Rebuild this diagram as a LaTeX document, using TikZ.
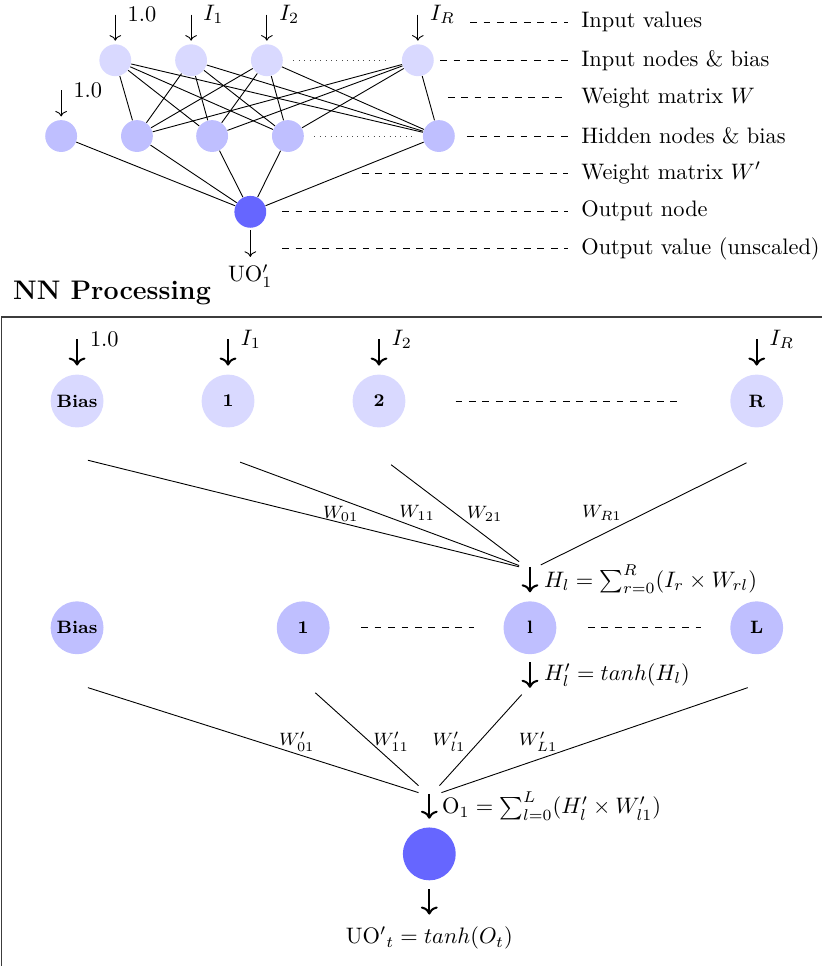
\documentclass[tikz,border=0pt]{standalone}
\usepackage{xcolor}
\usepackage{amsmath}
\usepackage{tikz}
\usetikzlibrary{arrows.meta, positioning, calc}
\definecolor{inlav}{RGB}{217,217,255}
\definecolor{hidlav}{RGB}{191,191,255}
\definecolor{outblue}{RGB}{102,102,255}
\definecolor{boxgray}{RGB}{60,60,60}
\tikzset{
  innode/.style={circle, fill=inlav, minimum size=0.5cm, inner sep=0pt},
  hidnode/.style={circle, fill=hidlav, minimum size=0.5cm, inner sep=0pt},
  outnode/.style={circle, fill=outblue, minimum size=0.5cm, inner sep=0pt},
  biginnode/.style={innode, minimum size=0.83cm, font=\footnotesize\bfseries},
  bighidnode/.style={hidnode, minimum size=0.83cm, font=\footnotesize\bfseries},
  bigoutnode/.style={outnode, minimum size=0.83cm},
  thinarrow/.style={->},
  bigarrow/.style={->, line width=0.9pt},
  legdash/.style={dashed},
  legtext/.style={anchor=west, inner sep=0pt},
  wlabel/.style={font=\footnotesize},
  gapdash/.style={dashed},
  gapdot/.style={dotted, color=black!70},
  boxline/.style={draw=boxgray, line width=0.6pt}
}

\begin{document}
\begin{tikzpicture}
  \useasboundingbox (0,0) rectangle (12.905,15.166);

  % Overview network
  \node[innode] (i0) at (1.81,14.22) {};
  \node[innode] (i1) at (3.00,14.22) {};
  \node[innode] (i2) at (4.19,14.22) {};
  \node[innode] (iR) at (6.56,14.22) {};
  \node[hidnode] (h0) at (0.96,13.03) {};
  \node[hidnode] (h1) at (2.15,13.03) {};
  \node[hidnode] (h2) at (3.33,13.03) {};
  \node[hidnode] (h3) at (4.52,13.03) {};
  \node[hidnode] (hL) at (6.89,13.03) {};
  \node[outnode] (o) at (3.93,11.84) {};

  \foreach \i in {i0,i1,i2,iR}
    \foreach \h in {h1,h2,h3,hL}
      \draw (\i) -- (\h);
  \foreach \h in {h0,h1,h2,h3,hL}
    \draw (\h) -- (o);
  \draw[gapdot, shorten <=0.16cm, shorten >=0.22cm] (i2) -- (iR);
  \draw[gapdot, shorten <=0.16cm, shorten >=0.17cm] (h3) -- (hL);

  \foreach \n/\t in {i0/1.0, i1/$I_1$, i2/$I_2$, iR/$I_R$}
    \draw[thinarrow] ($(\n.north)+(0,0.46)$) node[anchor=west, xshift=0.07cm] (v\n) {\t} -- ($(\n.north)+(0,0.05)$);
  \draw[thinarrow] ($(h0.north)+(0,0.46)$) node[anchor=west, xshift=0.07cm] (vh0) {1.0} -- ($(h0.north)+(0,0.05)$);
  \draw[thinarrow] ($(o.south)+(0,-0.03)$) -- ($(o.south)+(0,-0.45)$) node[below] (uo1) {UO$'_1$};

  % Legend
  \node[legtext] (lg1) at (9.12,14.82) {Input values};
  \node[legtext] (lg2) at (9.12,14.22) {Input nodes \& bias};
  \node[legtext] (lg3) at (9.12,13.63) {Weight matrix $W$};
  \node[legtext] (lg4) at (9.12,13.03) {Hidden nodes \& bias};
  \node[legtext] (lg5) at (9.12,12.45) {Weight matrix $W'$};
  \node[legtext] (lg6) at (9.12,11.85) {Output node};
  \node[legtext] (lg7) at (9.12,11.26) {Output value (unscaled)};
  \draw[legdash] (7.38,14.82) -- ([xshift=-0.2cm]lg1.west);
  \draw[legdash] (6.91,14.22) -- ([xshift=-0.2cm]lg2.west);
  \draw[legdash] (7.03,13.63) -- ([xshift=-0.2cm]lg3.west);
  \draw[legdash] (7.33,13.03) -- ([xshift=-0.2cm]lg4.west);
  \draw[legdash] (5.68,12.45) -- ([xshift=-0.2cm]lg5.west);
  \draw[legdash] (4.43,11.85) -- ([xshift=-0.2cm]lg6.west);
  \draw[legdash] (4.43,11.26) -- ([xshift=-0.2cm]lg7.west);

  % NN processing frame
  \node[font=\large\bfseries, anchor=base west, inner sep=0pt] (title) at (0.2,10.46) {NN Processing};
  \draw[boxline] (0.02,10.19) rectangle (13.5,-0.5);

  % Input layer
  \node[biginnode] (bi0) at (1.21,8.87) {Bias};
  \node[biginnode] (bi1) at (3.58,8.87) {1};
  \node[biginnode] (bi2) at (5.95,8.87) {2};
  \node[biginnode] (biR) at (11.88,8.87) {R};
  \foreach \n/\t in {bi0/1.0, bi1/$I_1$, bi2/$I_2$, biR/$I_R$}
    \draw[bigarrow] ($(\n.north)+(0,0.55)$) node[anchor=west, xshift=0.07cm] (v\n) {\t} -- ($(\n.north)+(0,0.135)$);
  \draw[gapdash, shorten <=0.78cm, shorten >=0.74cm] (bi2) -- (biR);

  % Hidden layer
  \node[bighidnode] (bh0) at (1.21,5.31) {Bias};
  \node[bighidnode] (bh1) at (4.76,5.31) {1};
  \node[bighidnode] (bhl) at (8.32,5.31) {l};
  \node[bighidnode] (bhL) at (11.88,5.31) {L};
  \draw[gapdash, shorten <=0.49cm, shorten >=0.45cm] (bh1) -- (bhl);
  \draw[gapdash, shorten <=0.49cm, shorten >=0.45cm] (bhl) -- (bhL);

  \coordinate (hin) at ($(bhl.north)+(0,0.535)$);
  \foreach \n/\sx/\sy/\ex/\ey in {bi0/0.17/0.93/-0.17/0, bi1/0.19/0.96/-0.17/0.02, bi2/0.19/1.0/-0.17/0.08, biR/-0.16/0.97/0.17/0.03}
    \draw ($(\n)+(\sx,-\sy)$) -- ($(hin)+(\ex,\ey)$);
  \node[wlabel] (w01) at (5.35,7.10) {$W_{01}$};
  \node[wlabel] (w11) at (6.55,7.11) {$W_{11}$};
  \node[wlabel] (w21) at (7.61,7.10) {$W_{21}$};
  \node[wlabel] (wR1) at (9.45,7.12) {$W_{R1}$};
  \draw[bigarrow] (hin) -- node[right, xshift=0.09cm] (hsum) {$H_l = \sum_{r=0}^{R}(I_r \times W_{rl})$} ($(bhl.north)+(0,0.135)$);
  \draw[bigarrow] ($(bhl.south)+(0,-0.12)$) -- node[right, xshift=0.09cm] (hact) {$H'_l = tanh(H_l)$} ($(bhl.south)+(0,-0.52)$);

  % Output layer
  \node[bigoutnode] (bo) at (6.74,1.76) {};
  \coordinate (oin) at ($(bo.north)+(0,0.52)$);
  \foreach \n/\sx/\sy/\ex/\ey in {bh0/0.17/0.94/-0.17/0.02, bh1/0.19/1.02/-0.17/0.13, bhl/-0.13/1.05/0.16/0.13, bhL/-0.14/0.94/0.19/0.02}
    \draw ($(\n)+(\sx,-\sy)$) -- ($(oin)+(\ex,\ey)$);
  \node[wlabel] (v01) at (4.66,3.52) {$W'_{01}$};
  \node[wlabel] (v11) at (6.14,3.52) {$W'_{11}$};
  \node[wlabel] (vl1) at (7.05,3.52) {$W'_{l1}$};
  \node[wlabel] (vL1) at (8.45,3.52) {$W'_{L1}$};
  \draw[bigarrow] (oin) -- node[right, xshift=0.07cm] (osum) {O$_1 = \sum_{l=0}^{L}(H'_l \times W'_{l1})$} ($(bo.north)+(0,0.13)$);
  \draw[bigarrow] ($(bo.south)+(0,-0.13)$) -- ($(bo.south)+(0,-0.53)$) node[below, yshift=-0.06cm] (uot) {UO$'{}_t = tanh(O_t)$};
\end{tikzpicture}
\end{document}
